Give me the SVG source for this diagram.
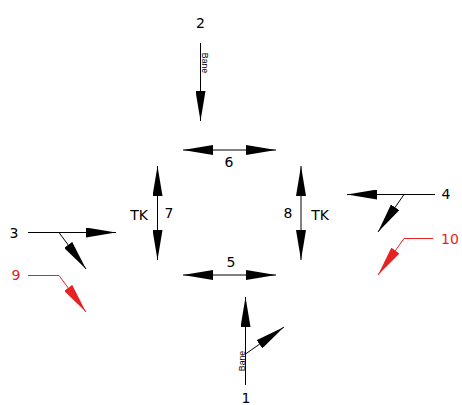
<svg xmlns="http://www.w3.org/2000/svg" width="462" height="405" viewBox="0 0 462 405">
<style>
text{font-family:"DejaVu Sans",Verdana,sans-serif;font-size:14px;fill:#000;text-anchor:middle}
text.red{fill:#e82222}
.sm{font-family:"Liberation Sans",Arial,sans-serif;font-size:8.7px}
.ln{fill:none;stroke:#000;stroke-width:1}
.r{stroke:#e82222}
.a{marker-end:url(#ah)}
.d{marker-start:url(#ah);marker-end:url(#ah)}
.ar{marker-end:url(#ahr)}
</style>
<defs>
<marker id="ah" viewBox="0 0 30 10" refX="30" refY="5" markerWidth="30" markerHeight="10" markerUnits="userSpaceOnUse" orient="auto-start-reverse"><path d="M0,0 L30,5 L0,10 Z" fill="#000"/></marker>
<marker id="ahr" viewBox="0 0 30 10" refX="30" refY="5" markerWidth="30" markerHeight="10" markerUnits="userSpaceOnUse" orient="auto-start-reverse"><path d="M0,0 L30,5 L0,10 Z" fill="#e82222"/></marker>
</defs>
<g id="connectors">
<path class="ln a" d="M200.5,43 V121"/>
<path class="ln d" d="M183,150 H276"/>
<path class="ln d" d="M183,275 H276"/>
<path class="ln d" d="M157.5,166 V260"/>
<path class="ln d" d="M301,166 V260"/>
<path class="ln a" d="M28,232.5 H116"/>
<path class="ln a" d="M59,232.5 L86,269"/>
<path class="ln a" d="M435,194.5 H347"/>
<path class="ln a" d="M404,194.5 L378,232"/>
<path class="ln r ar" d="M28,275.5 H59 L86,312"/>
<path class="ln r ar" d="M433,238.5 H404 L378,275"/>
<path class="ln a" d="M245.5,385 V297"/>
<path class="ln a" d="M245.5,354 L284,327"/>
</g>
<g id="n2"><text x="200.5" y="28">2</text><text class="sm" transform="translate(202,63) rotate(90)">Bane</text></g>
<g id="n6"><text x="229" y="167">6</text></g>
<g id="n5"><text x="231" y="267">5</text></g>
<g id="n7"><text x="169" y="218">7</text><text x="139" y="220">TK</text></g>
<g id="n8"><text x="288" y="218">8</text><text x="320" y="220">TK</text></g>
<g id="n3"><text x="14" y="238">3</text></g>
<g id="n9"><text class="red" x="16" y="280">9</text></g>
<g id="n4"><text x="446" y="199">4</text></g>
<g id="n10"><text class="red" x="450" y="244">10</text></g>
<g id="n1"><text x="246" y="403">1</text><text class="sm" transform="translate(244.5,361) rotate(-90)">Bane</text></g>
</svg>
